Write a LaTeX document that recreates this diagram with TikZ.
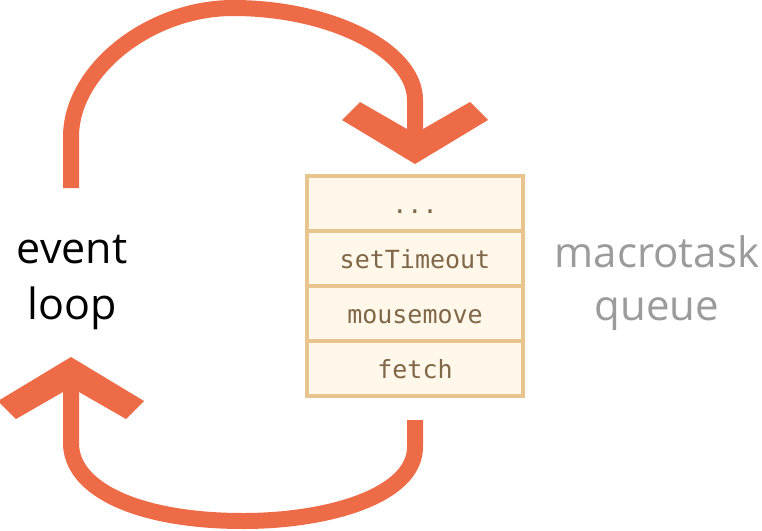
\documentclass[tikz,border=0pt]{standalone}
\usepackage{fontspec}
\setmainfont{Open Sans}
\setmonofont{DejaVu Sans Mono}
\usetikzlibrary{positioning}
\definecolor{loopred}{HTML}{EE6B47}
\definecolor{qborder}{HTML}{E8C48E}
\definecolor{qfill}{HTML}{FFF8EA}
\definecolor{qtext}{HTML}{7F6748}
\definecolor{qlabel}{HTML}{9B9B9B}
\tikzset{
  flow/.style={draw=loopred,line width=16pt},
  qrow/.style={draw=qborder,fill=qfill,line width=4pt,minimum width=216pt,minimum height=55pt,
    inner sep=0pt,outer sep=0pt,text=qtext,text height=20pt,text depth=0pt,
    font=\ttfamily\fontsize{25}{30}\selectfont},
  big/.style={font=\fontsize{43}{56}\selectfont,align=center}
}
% filled chevron head, origin at the end of the shaft
\newcommand\chevron[2]{\fill[loopred,shift={(#1)},rotate=#2] (0,30) -- (-73,-14) -- (-55,-32) -- (-8,-5) -- (8,-5) -- (55,-32) -- (73,-14) -- cycle;}
\begin{document}
\begin{tikzpicture}[x=1pt,y=-1pt]
	\useasboundingbox (0,0) rectangle (762,530);
	\node[big] (loop) at (72,282) {event\\loop};
	\node[big,text=qlabel,font=\fontsize{42}{53}\selectfont] (label) at (657,283) {macrotask\\queue};
	\node[qrow] (dots) at (415,203.5) {...};
	\node[qrow,below=0pt of dots] (timeout) {setTimeout};
	\node[qrow,below=0pt of timeout] (mouse) {mousemove};
	\node[qrow,below=0pt of mouse] (fetch) {fetch};
	\coordinate (out) at (71,188);
	\coordinate (topin) at (415,134);
	\coordinate (back) at (415,420);
	\coordinate (home) at (71,387);
	\draw[flow] (out) -- (71,137) .. controls (71,70) and (150,8) .. (233,8) .. controls (330,8) and (415,50) .. (415,100) -- (topin);
	\chevron{topin}{0}
	\draw[flow] (back) -- (415,447) .. controls (415,495) and (330,521) .. (243,521) .. controls (140,521) and (71,490) .. (71,443) -- (home);
	\chevron{home}{180}
\end{tikzpicture}
\end{document}
